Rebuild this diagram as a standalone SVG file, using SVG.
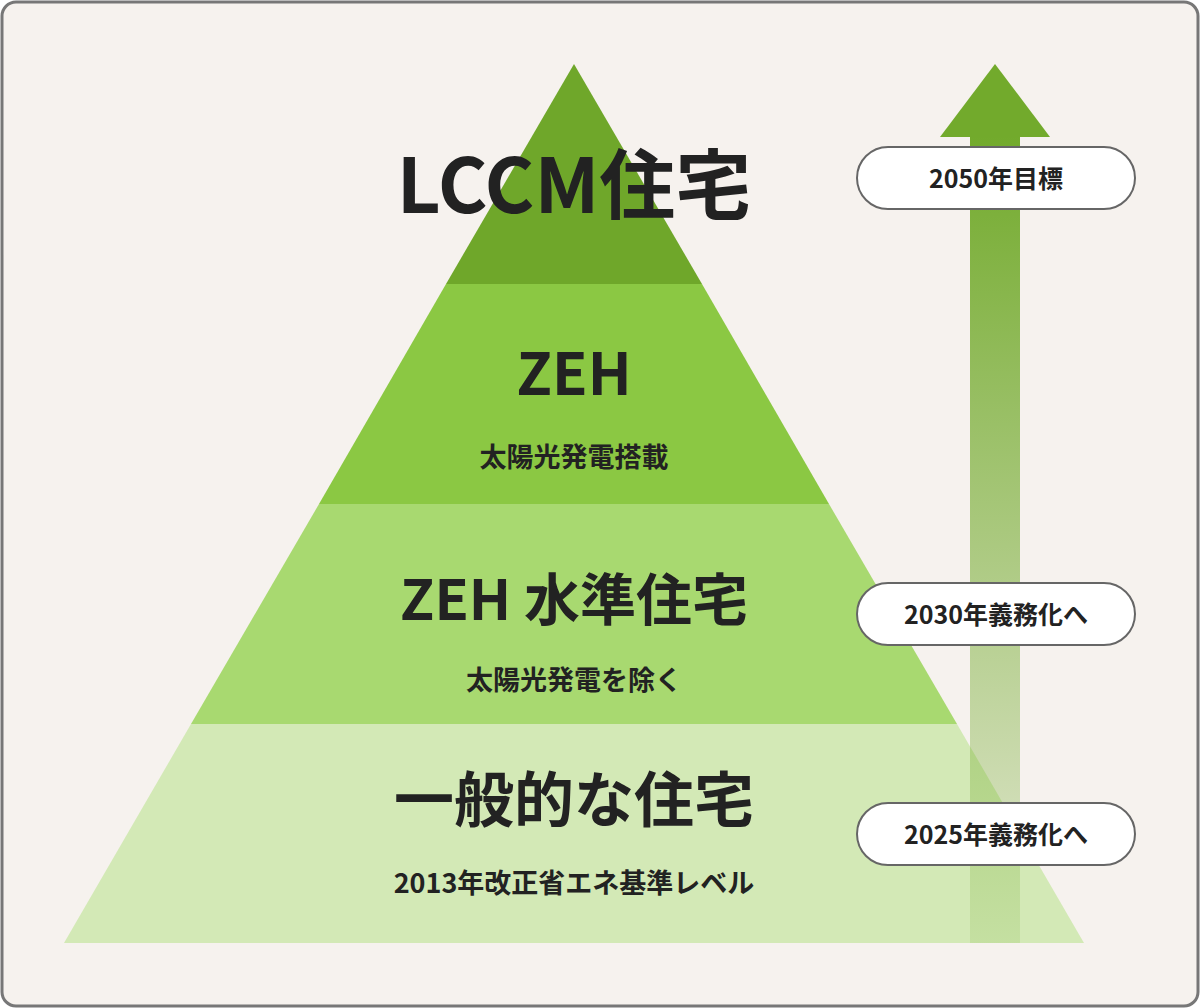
<svg xmlns="http://www.w3.org/2000/svg" width="1200" height="1008" viewBox="0 0 1200 1008">
<defs>
<linearGradient id="ag" x1="0" y1="0" x2="0" y2="1">
<stop offset="0" stop-color="#72aa2c"/>
<stop offset="1" stop-color="#72aa2c" stop-opacity="0.15"/>
</linearGradient>
<style>
text{font-family:"Noto Sans CJK JP","Noto Sans",sans-serif;font-weight:700;fill:#222;text-anchor:middle}
.pill{fill:#fff;stroke:#666;stroke-width:2}
.pt{font-size:25px}
</style>
</defs>
<rect x="2" y="2" width="1196" height="1004" rx="14" fill="#f6f2ee" stroke="#777" stroke-width="3"/>
<g id="layer4"><polygon points="191,724 957,724 1084,943 64,943" fill="#d3e9b6"/>
<text x="574" y="822" font-size="60">一般的な住宅</text>
<text x="574" y="893" font-size="27">2013年改正省エネ基準レベル</text></g>
<g id="layer3"><polygon points="319,504 829,504 957,724 191,724" fill="#a8d970"/>
<text x="574" y="620" font-size="56">ZEH 水準住宅</text>
<text x="574" y="690" font-size="27">太陽光発電を除く</text></g>
<g id="layer2"><polygon points="446,284 702,284 829,504 319,504" fill="#8bc843"/>
<text x="574" y="395" font-size="58">ZEH</text>
<text x="574" y="467" font-size="27">太陽光発電搭載</text></g>
<g id="layer1"><polygon points="574,64 702,284 446,284" fill="#6fa72a"/>
<text x="574" y="213" font-size="76">LCCM住宅</text></g>
<g id="arrow"><rect x="970" y="136" width="50" height="807" fill="url(#ag)"/>
<polygon points="940,137 995,64 1050,137" fill="#72aa2c"/></g>
<g id="p1"><rect class="pill" x="857" y="147" width="278" height="62" rx="31"/><text class="pt" x="996" y="188">2050年目標</text></g>
<g id="p2"><rect class="pill" x="857" y="583" width="278" height="62" rx="31"/><text class="pt" x="996" y="624">2030年義務化へ</text></g>
<g id="p3"><rect class="pill" x="857" y="803" width="278" height="62" rx="31"/><text class="pt" x="996" y="844">2025年義務化へ</text></g>
</svg>
